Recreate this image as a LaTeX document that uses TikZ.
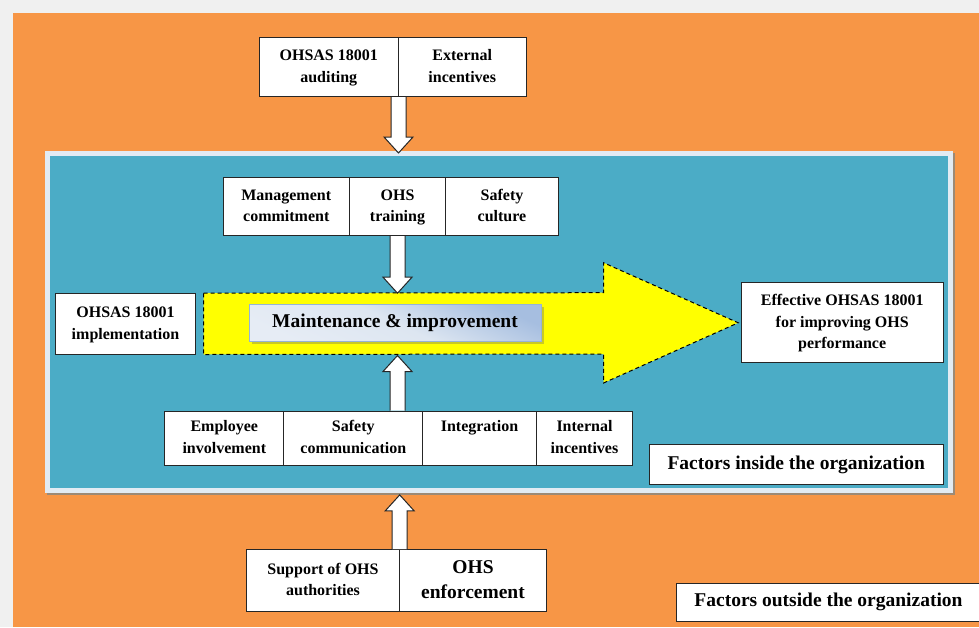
\documentclass[tikz,border=0pt]{standalone}
\usepackage{fontspec}
\setmainfont{Liberation Serif}
\usetikzlibrary{calc}
\definecolor{canvas}{HTML}{F0F0F0}
\definecolor{bgorange}{HTML}{F79646}
\definecolor{tealpanel}{HTML}{4BACC6}
\definecolor{panelrim}{HTML}{E2EBF3}
\definecolor{panelshadow}{HTML}{9C8A76}
\definecolor{mtop}{HTML}{A6BEE0}
\definecolor{mmid}{HTML}{DDE6F1}
\definecolor{mbot}{HTML}{E6ECF5}
\definecolor{mborder}{HTML}{95B3D7}
\definecolor{pureyellow}{HTML}{FFFF00}
\newcommand\blkdown[2]{\draw[blk] ($(#1)+(-7.5,0)$) -- ($(#2)+(-7.5,-16)$) -- ($(#2)+(-14.5,-16)$) -- (#2) -- ($(#2)+(14.5,-16)$) -- ($(#2)+(7.5,-16)$) -- ($(#1)+(7.5,0)$);}
\newcommand\blkup[2]{\draw[blk] ($(#1)+(-7.5,0)$) -- ($(#2)+(-7.5,16)$) -- ($(#2)+(-14.5,16)$) -- (#2) -- ($(#2)+(14.5,16)$) -- ($(#2)+(7.5,16)$) -- ($(#1)+(7.5,0)$);}
\begin{document}
\begin{tikzpicture}[x=1pt,y=-1pt,
  cell/.style={draw=black!85, line width=1pt, fill=white, anchor=north west, inner sep=0pt, align=center, font=\fontsize{16}{21.5}\selectfont\bfseries},
  bigcell/.style={cell, font=\fontsize{19.5}{25}\selectfont\bfseries},
  blk/.style={draw=black!85, line width=1pt, fill=white, line join=miter},
  yarrow/.style={fill=pureyellow, draw=black, dash pattern=on 4pt off 3pt, line width=1pt, line join=miter},
]
\useasboundingbox (0,0) rectangle (979,627);
\fill[canvas] (0,0) rectangle (979,627);
\fill[bgorange] (13,13) rectangle (979,627);
% inner panel
\fill[panelshadow] (47,153) rectangle (955,495);
\node[fill=panelrim, inner sep=0pt, minimum width=908, minimum height=342, anchor=north west] (panel) at (45,151) {};
\fill[tealpanel] (50,156) rectangle (948,488);

% top outside factors
\node[cell, minimum width=138.5, minimum height=59] (aud) at (259,37) {OHSAS 18001\strut\\auditing\strut};
\node[cell, minimum width=128.5, minimum height=59] (ext) at (397.5,37) {External\strut\\incentives\strut};

% inside top factors
\node[cell, minimum width=126.5, minimum height=58] (mgmt) at (222.5,177) {Management\strut\\commitment\strut};
\node[cell, minimum width=96, minimum height=58] (trn) at (349,177) {OHS\strut\\training\strut};
\node[cell, minimum width=113, minimum height=58] (cult) at (445,177) {Safety\strut\\culture\strut};

% implementation and result
\node[cell, minimum width=140, minimum height=61] (impl) at (55,293) {OHSAS 18001\strut\\implementation\strut};
\node[cell, minimum width=202, minimum height=80] (eff) at (740.7,282.3) {Effective OHSAS 18001\strut\\for improving OHS\strut\\performance\strut};

% yellow arrow
\coordinate (ya) at ($(impl.east)+(7.6,0)$);
\coordinate (ytop) at ($(ya)+(0,-30.8)$);
\coordinate (ybot) at ($(ya)+(0,30.5)$);
\coordinate (ytip) at ($(eff.west)+(-2.5,0)$);
\draw[yarrow] (ytop) -- (603.5,292.7) -- (603.5,262.7) -- (ytip) -- (603.5,383) -- (603.5,354) -- (ybot) -- cycle;

% maintenance box
\fill[black!60, opacity=.35] (251.5,307) rectangle (543.5,344);
\node[anchor=north west, minimum width=292, minimum height=37, inner sep=0pt, draw=mborder, line width=0.8pt, top color=mtop, bottom color=mbot, middle color=mmid, shading angle=-25, font=\fontsize{19.5}{24}\selectfont\bfseries] (maint) at (248.6,304) {Maintenance \& improvement};

% inside bottom factors
\node[cell, minimum width=119, minimum height=54.3] (emp) at (164.3,410.7) {Employee\strut\\involvement\strut};
\node[cell, minimum width=139, minimum height=54.3] (scom) at (283.3,410.7) {Safety\strut\\communication\strut};
\node[cell, minimum width=113.4, minimum height=54.3] (integ) at (422.3,410.7) {Integration\strut\\\strut};
\node[cell, minimum width=96.6, minimum height=54.3] (iinc) at (535.7,410.7) {Internal\strut\\incentives\strut};

% labels
\node[bigcell, minimum width=294, minimum height=40.3] (inside) at (648.7,444) {Factors inside the organization};
\node[bigcell, minimum width=304, minimum height=38.3] (outside) at (676,582.7) {Factors outside the organization};

% bottom outside factors
\node[cell, minimum width=152.4, minimum height=62] (supp) at (246.3,549) {Support of OHS\strut\\authorities\strut};
\node[bigcell, minimum width=147.6, minimum height=62] (enf) at (398.7,549) {OHS\strut\\enforcement\strut};

% block arrows
\coordinate (t1) at ($(aud.south east |- panel.north)+(0,2)$);
\blkdown{aud.south east}{t1}
\coordinate (t2) at (trn.south |- ytop);
\blkdown{trn.south}{t2}
\coordinate (s3) at (trn.south |- scom.north);
\coordinate (t3) at ($(trn.south |- ybot)+(0,1)$);
\blkup{s3}{t3}
\coordinate (t4) at ($(supp.north east |- panel.south)+(0,1.5)$);
\blkup{supp.north east}{t4}
\end{tikzpicture}
\end{document}
